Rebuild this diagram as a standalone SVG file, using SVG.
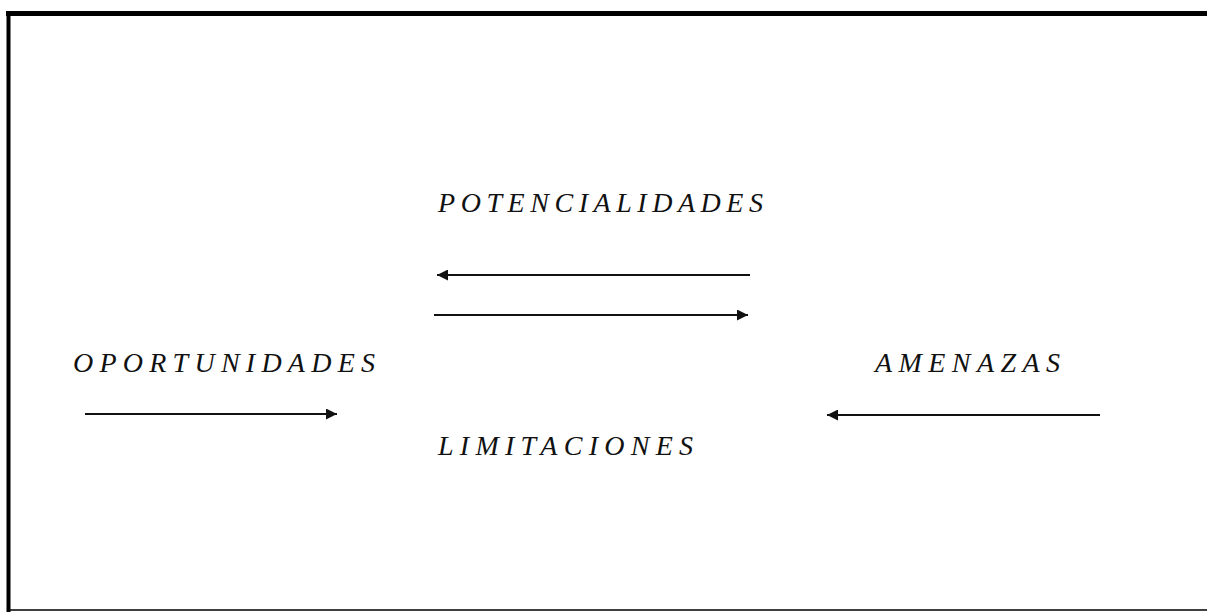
<svg xmlns="http://www.w3.org/2000/svg" width="1207" height="612" viewBox="0 0 1207 612">
<style>
  .lbl { font-family: "Liberation Serif", "Times New Roman", serif; font-style: italic; font-size: 28px; fill: #111; }
  .conn { stroke: #111; stroke-width: 2.2; fill: none; }
  .frame { stroke: #000; fill: none; }
</style>
<defs>
  <marker id="ah" viewBox="0 0 10 10" refX="10" refY="5" markerWidth="13" markerHeight="11" markerUnits="userSpaceOnUse" orient="auto">
    <path d="M0,0 L10,5 L0,10 Z" fill="#111"/>
  </marker>
</defs>
<rect width="1207" height="612" fill="#fff"/>
<g id="frame">
  <line class="frame" x1="6" y1="13.5" x2="1207" y2="13.5" stroke-width="5"/>
  <line class="frame" x1="8.5" y1="11" x2="8.5" y2="612" stroke-width="4"/>
  <line class="frame" x1="8" y1="610" x2="1207" y2="610" stroke-width="1.5" stroke="#555"/>
</g>
<g id="connectors">
  <line class="conn" x1="750" y1="275" x2="437" y2="275" marker-end="url(#ah)"/>
  <line class="conn" x1="434" y1="315" x2="748" y2="315" marker-end="url(#ah)"/>
  <line class="conn" x1="85" y1="414" x2="337" y2="414" marker-end="url(#ah)"/>
  <line class="conn" x1="1100" y1="415" x2="827" y2="415" marker-end="url(#ah)"/>
</g>
<g id="potencialidades"><text class="lbl" x="438" y="212" textLength="325" lengthAdjust="spacing">POTENCIALIDADES</text></g>
<g id="oportunidades"><text class="lbl" x="73" y="372" textLength="302" lengthAdjust="spacing">OPORTUNIDADES</text></g>
<g id="amenazas"><text class="lbl" x="875" y="372" textLength="185" lengthAdjust="spacing">AMENAZAS</text></g>
<g id="limitaciones"><text class="lbl" x="438" y="455" textLength="255" lengthAdjust="spacing">LIMITACIONES</text></g>
</svg>
